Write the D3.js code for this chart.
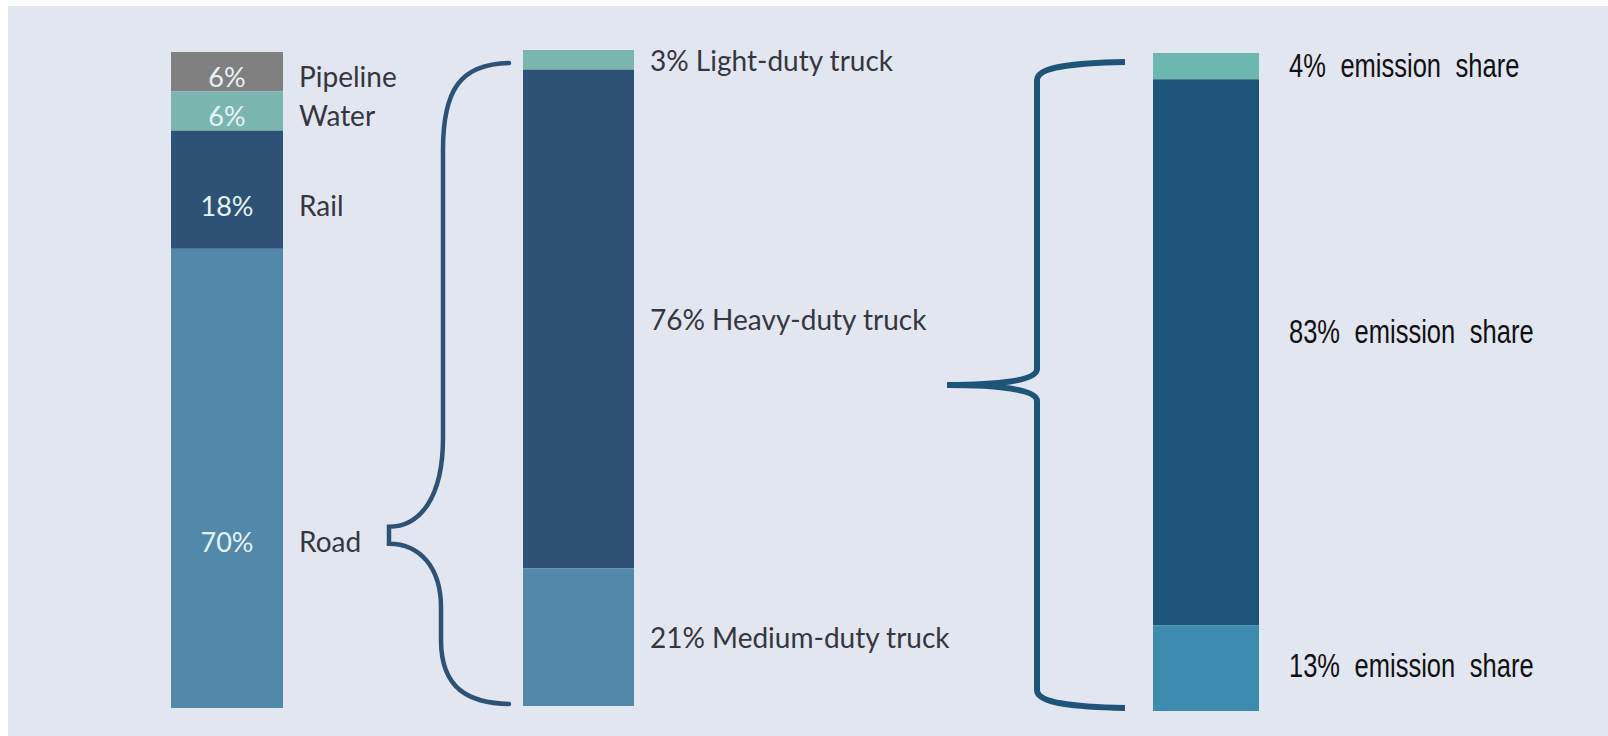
<!DOCTYPE html>
<html>
<head>
<meta charset="utf-8">
<script src="https://cdn.jsdelivr.net/npm/d3@7"></script>
<style>
  html, body { margin: 0; padding: 0; background: #fff; }
  svg { display: block; }
</style>
</head>
<body>
<svg width="1608" height="736"></svg>
<script>
// freight modes (left bar)
var modes = ["Pipeline", "Water", "Rail", "Road"];
var modeShare = [6, 6, 18, 70];
var modeColors = ["#808080", "#7bb5b0", "#2e5275", "#5289ab"];

// road split (middle bar)
var trucks = ["Light-duty truck", "Heavy-duty truck", "Medium-duty truck"];
var truckShare = [3, 76, 21];
var truckColors = ["#7ab5ae", "#2e5275", "#5289ab"];

// emission share of trucks (right bar)
var emissionShare = [4, 83, 13];
var emissionColors = ["#6cb8b1", "#1f5479", "#3d8bae"];
var emissionText = "emission share";

var svg = d3.select("svg");

svg.append("rect")
    .attr("x", 8).attr("y", 6)
    .attr("width", 1600).attr("height", 730)
    .attr("fill", "#e2e6f0");

// stack helper: returns [{key, value, y0, y1, i}]
function stackUp(keys, values) {
  var acc = 0;
  return values.map(function(v, i) {
    var d = {key: keys[i], value: v, y0: acc, y1: acc + v, i: i};
    acc += v;
    return d;
  });
}

var yLeft = d3.scaleLinear().domain([0, 100]).range([52, 708]);
var yMid = d3.scaleLinear().domain([0, 100]).range([50, 706]);
var yRight = d3.scaleLinear().domain([0, 100]).range([53, 711]);

var sansFont = "Lato, 'Source Sans Pro', 'Noto Sans', sans-serif";
var narrowFont = "'Liberation Sans', Arial, sans-serif";

function labelY(scale, d, frac) {
  return scale(d.y0) + (scale(d.y1) - scale(d.y0)) * frac;
}

// ---------- left bar ----------
var leftX = 171, leftW = 112, leftFrac = 0.64;
var left = svg.append("g");
var modeData = stackUp(modes, modeShare);

left.selectAll("rect")
    .data(modeData)
    .enter()
  .append("rect")
    .attr("x", leftX)
    .attr("y", function(d) { return yLeft(d.y0); })
    .attr("width", leftW)
    .attr("height", function(d) { return yLeft(d.y1) - yLeft(d.y0); })
    .style("fill", function(d) { return modeColors[d.i]; });

left.selectAll("text.pct")
    .data(modeData)
    .enter()
  .append("text")
    .attr("class", "pct")
    .attr("x", leftX + leftW / 2)
    .attr("y", function(d) { return labelY(yLeft, d, leftFrac); })
    .attr("dy", "0.35em")
    .attr("text-anchor", "middle")
    .style("font-family", sansFont)
    .style("font-size", "27px")
    .style("fill", "#e6f3f5")
    .text(function(d) { return d.value + "%"; });

left.selectAll("text.name")
    .data(modeData)
    .enter()
  .append("text")
    .attr("class", "name")
    .attr("x", leftX + leftW + 16)
    .attr("y", function(d) { return labelY(yLeft, d, leftFrac); })
    .attr("dy", "0.35em")
    .style("font-family", sansFont)
    .style("font-size", "28px")
    .style("fill", "#35363f")
    .text(function(d) { return d.key; });

// ---------- middle bar ----------
var midX = 523, midW = 111;
var mid = svg.append("g");
var truckData = stackUp(trucks, truckShare);

mid.selectAll("rect")
    .data(truckData)
    .enter()
  .append("rect")
    .attr("x", midX)
    .attr("y", function(d) { return yMid(d.y0); })
    .attr("width", midW)
    .attr("height", function(d) { return yMid(d.y1) - yMid(d.y0); })
    .style("fill", function(d) { return truckColors[d.i]; });

mid.selectAll("text")
    .data(truckData)
    .enter()
  .append("text")
    .attr("x", midX + midW + 16)
    .attr("y", function(d) { return labelY(yMid, d, 0.5); })
    .attr("dy", "0.4em")
    .style("font-family", sansFont)
    .style("font-size", "28px")
    .style("fill", "#35363f")
    .text(function(d) { return d.value + "% " + d.key; });

// ---------- right bar ----------
var rightX = 1153, rightW = 106;
var right = svg.append("g");
var emData = stackUp(trucks, emissionShare);

right.selectAll("rect")
    .data(emData)
    .enter()
  .append("rect")
    .attr("x", rightX)
    .attr("y", function(d) { return yRight(d.y0); })
    .attr("width", rightW)
    .attr("height", function(d) { return yRight(d.y1) - yRight(d.y0); })
    .style("fill", function(d) { return emissionColors[d.i]; });

// condensed look: squeeze the glyphs horizontally
right.selectAll("g.lab")
    .data(emData)
    .enter()
  .append("g")
    .attr("class", "lab")
    .attr("transform", function(d) {
      return "translate(" + (rightX + rightW + 30) + "," + labelY(yRight, d, 0.46) + ") scale(0.75,1)";
    })
  .append("text")
    .attr("dy", "0.36em")
    .style("font-family", narrowFont)
    .style("font-size", "34px")
    .style("word-spacing", "10px")
    .style("fill", "#111")
    .text(function(d) { return d.value + "% " + emissionText; });

// ---------- braces ----------
// left brace: from road segment to the full middle bar
var road = modeData[3];
var tipY = labelY(yLeft, road, leftFrac) - 8;
var bTop = yMid(0) + 13, bBot = yMid(100) - 2;
var bx = 443, tipX = 389, endX = midX - 14;
var p = d3.path();
p.moveTo(endX, bTop);
p.bezierCurveTo(bx + 17, bTop + 1, bx, bTop + 27, bx, bTop + 87);
p.lineTo(bx, tipY - 97);
p.bezierCurveTo(bx, tipY - 37, bx - 23, tipY - 8, tipX, tipY - 8);
p.lineTo(tipX, tipY + 9);
p.bezierCurveTo(bx - 23, tipY + 9, bx - 2, tipY + 33, bx - 2, tipY + 73);
p.lineTo(bx - 2, bBot - 64);
p.bezierCurveTo(bx - 2, bBot - 14, bx + 27, bBot - 1, endX, bBot);

svg.append("path")
    .attr("d", p.toString())
    .attr("fill", "none")
    .attr("stroke", "#2e5275")
    .attr("stroke-width", 4.5)
    .attr("stroke-linecap", "round");

// right brace: spans the whole emission bar
var rTop = yRight(0) + 9, rBot = yRight(100) - 3;
var rx = 1037, rTipX = 947, rEnd = rightX - 28;
var rTip = (rTop + rBot) / 2;
var q = d3.path();
q.moveTo(rEnd, rTop);
q.bezierCurveTo(rx + 40, rTop + 1, rx, rTop + 4, rx, rTop + 18);
q.lineTo(rx, rTip - 16);
q.bezierCurveTo(rx, rTip - 4, rx - 40, rTip, rTipX, rTip);
q.bezierCurveTo(rx - 40, rTip, rx, rTip + 4, rx, rTip + 16);
q.lineTo(rx, rBot - 18);
q.bezierCurveTo(rx, rBot - 4, rx + 40, rBot - 1, rEnd, rBot);

svg.append("path")
    .attr("d", q.toString())
    .attr("fill", "none")
    .attr("stroke", "#1f5479")
    .attr("stroke-width", 6)
    .attr("stroke-linecap", "butt");
</script>
</body>
</html>
